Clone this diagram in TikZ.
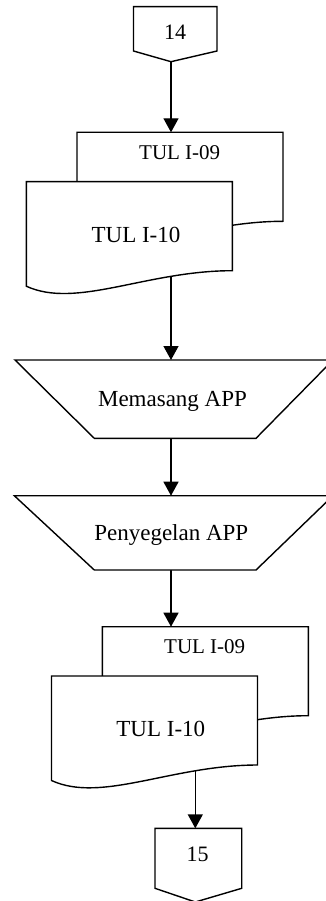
\documentclass[tikz,border=0pt]{standalone}
\usepackage{fontspec}
\setmainfont{Liberation Serif}
\usetikzlibrary{arrows.meta}
\newcommand{\flowdoc}[2]{%
  \draw[shp,shift={(#1,#2)}] (0,0) -- (206,0) -- (206,89)
    .. controls (120,89) and (50,127.5) .. (0,104.5) -- cycle;}
\begin{document}
\begin{tikzpicture}[x=1pt,y=-1pt,
  shp/.style={draw=black, fill=white, line width=1.4pt, line join=miter},
  conn/.style={draw=black, line width=1.4pt, -{Triangle[length=14pt,width=15pt]}},
  lbl/.style={anchor=base, inner sep=0pt, font=\fontsize{23}{27}\selectfont},
  lbls/.style={lbl, font=\fontsize{21}{25}\selectfont},
  lbln/.style={lbl, font=\fontsize{22}{26}\selectfont}]
\useasboundingbox (0,0) rectangle (326,901);
\begin{scope}
\clip (0,0) rectangle (326,901);
% connection points
\coordinate (c14tip) at (171,61.7);
\coordinate (d1in) at (171,132.3);
\coordinate (d1out) at (171,272);
\coordinate (m1in) at (171,360);
\coordinate (m1out) at (171,438.3);
\coordinate (m2in) at (171,495.7);
\coordinate (m2out) at (171,570);
\coordinate (d2in) at (171,626.7);
\coordinate (d2out) at (195.3,766);
\coordinate (c15in) at (195.3,828.3);
% connectors
\draw[conn] (c14tip) -- (d1in);
\draw[conn] (d1out) -- (m1in);
\draw[conn] (m1out) -- (m2in);
\draw[conn] (m2out) -- (d2in);
\draw[conn] (d2out) -- (c15in);
% off-page connector 14
\draw[shp] (133.5,6.7) -- (217,6.7) -- (217,51) -- (c14tip) -- (133.5,51) -- cycle;
% documents 1
\flowdoc{77}{132.3}
\flowdoc{26.3}{181.7}
% manual operations
\draw[shp] (15,360) -- (333,360) -- (256,438.3) -- (94.3,438.3) -- cycle;
\draw[shp] (14.3,495.7) -- (333,495.7) -- (256,570) -- (94.3,570) -- cycle;
% documents 2
\flowdoc{102.3}{626.7}
\flowdoc{51.5}{676}
% off-page connector 15
\draw[shp] (155,828.3) -- (241.7,828.3) -- (241.7,888.3) -- (195.3,902) -- (155,888.3) -- cycle;
% labels
\node[lbln] (t14) at (175.2,39.3) {14};
\node[lbls] (t09a) at (179.7,159.3) {TUL I-09};
\node[lbl] (t10a) at (136,242.3) {TUL I-10};
\node[lbl] (tmem) at (172.5,406) {Memasang APP};
\node[lbl] (tpen) at (171.3,540) {Penyegelan APP};
\node[lbls] (t09b) at (204.7,653.3) {TUL I-09};
\node[lbl] (t10b) at (160.8,736) {TUL I-10};
\node[lbln] (t15) at (197.5,861.7) {15};
\end{scope}
\end{tikzpicture}
\end{document}
